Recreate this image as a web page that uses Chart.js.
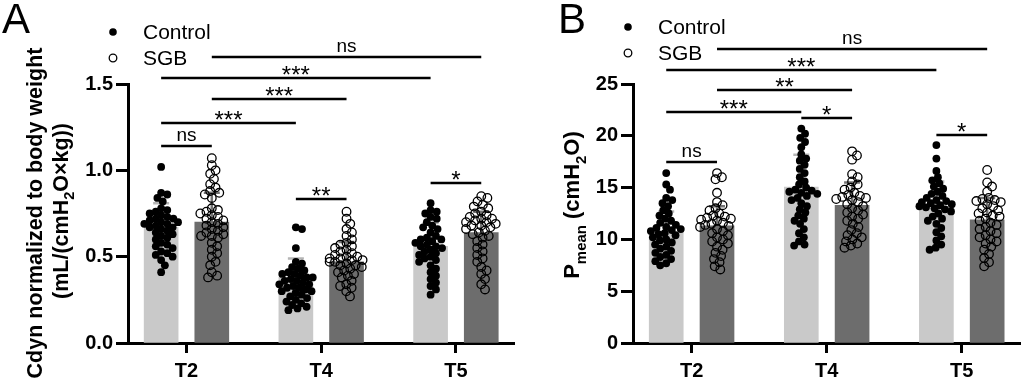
<!DOCTYPE html>
<html>
<head>
<meta charset="utf-8">
<script src="https://cdn.jsdelivr.net/npm/chart.js@4.4.0/dist/chart.umd.min.js"></script>
<style>
  html, body { margin: 0; padding: 0; background: #fff; }
  #wrapA { position: absolute; left: 0; top: 0; width: 520px; height: 382px; }
  #wrapB { position: absolute; left: 520px; top: 0; width: 506px; height: 382px; }
</style>
</head>
<body>
<div id="wrapA"><canvas id="chartA" width="520" height="382"></canvas></div>
<div id="wrapB"><canvas id="chartB" width="506" height="382"></canvas></div>
<script>
// ---- data ----
const timepoints = ['T2', 'T4', 'T5'];
const groups = ['Control', 'SGB'];

// Panel A: Cdyn normalized to body weight
const cdynMeanControl = [0.67, 0.38, 0.56];
const cdynMeanSGB = [0.70, 0.47, 0.64];
const cdynSdControl = [0.14, 0.11, 0.135];
const cdynSdSGB = [0.17, 0.115, 0.12];
const cdynControlT2 = [1.02, 0.87, 0.86, 0.84, 0.82, 0.78, 0.77, 0.76, 0.75, 0.74, 0.73, 0.72, 0.72, 0.71, 0.70, 0.70, 0.69, 0.69, 0.68, 0.67, 0.67, 0.66, 0.65, 0.64, 0.63, 0.62, 0.61, 0.60, 0.58, 0.57, 0.56, 0.55, 0.53, 0.52, 0.51, 0.50, 0.48, 0.45, 0.41];
const cdynSGBT2 = [1.07, 1.03, 1.00, 0.98, 0.95, 0.92, 0.90, 0.88, 0.87, 0.86, 0.84, 0.78, 0.77, 0.76, 0.75, 0.74, 0.73, 0.72, 0.71, 0.70, 0.69, 0.68, 0.67, 0.66, 0.65, 0.64, 0.63, 0.62, 0.62, 0.61, 0.58, 0.56, 0.54, 0.52, 0.50, 0.47, 0.45, 0.41, 0.39, 0.38];
const cdynControlT4 = [0.67, 0.66, 0.55, 0.47, 0.46, 0.44, 0.43, 0.42, 0.41, 0.40, 0.40, 0.39, 0.38, 0.38, 0.37, 0.36, 0.36, 0.35, 0.34, 0.34, 0.33, 0.32, 0.32, 0.31, 0.30, 0.30, 0.29, 0.28, 0.27, 0.26, 0.25, 0.24, 0.23, 0.22, 0.21, 0.20, 0.19];
const cdynSGBT4 = [0.76, 0.72, 0.69, 0.66, 0.64, 0.62, 0.60, 0.58, 0.57, 0.56, 0.55, 0.54, 0.53, 0.52, 0.51, 0.50, 0.50, 0.49, 0.49, 0.48, 0.48, 0.47, 0.47, 0.46, 0.45, 0.45, 0.44, 0.43, 0.42, 0.41, 0.40, 0.39, 0.38, 0.36, 0.34, 0.33, 0.32, 0.30, 0.27];
const cdynControlT5 = [0.81, 0.77, 0.76, 0.75, 0.73, 0.72, 0.70, 0.68, 0.67, 0.66, 0.64, 0.62, 0.61, 0.60, 0.60, 0.59, 0.58, 0.57, 0.56, 0.56, 0.55, 0.54, 0.53, 0.52, 0.51, 0.50, 0.49, 0.48, 0.47, 0.45, 0.43, 0.41, 0.39, 0.37, 0.35, 0.33, 0.31, 0.28];
const cdynSGBT5 = [0.85, 0.84, 0.82, 0.80, 0.79, 0.78, 0.76, 0.75, 0.74, 0.73, 0.72, 0.72, 0.71, 0.70, 0.70, 0.69, 0.68, 0.68, 0.67, 0.66, 0.65, 0.64, 0.63, 0.62, 0.61, 0.59, 0.57, 0.55, 0.53, 0.51, 0.49, 0.47, 0.44, 0.42, 0.40, 0.37, 0.34, 0.31];

// Panel B: Pmean
const pmeanMeanControl = [10.7, 15.06, 13.2];
const pmeanMeanSGB = [11.3, 13.3, 11.9];
const pmeanSdControl = [2.0, 3.1, 2.4];
const pmeanSdSGB = [1.9, 2.2, 2.1];
const pmeanControlT2 = [16.4, 15.3, 14.8, 14.0, 13.8, 13.5, 13.2, 12.8, 12.5, 12.3, 12.0, 11.8, 11.6, 11.4, 11.2, 11.1, 11.0, 10.9, 10.8, 10.6, 10.5, 10.4, 10.2, 10.0, 9.9, 9.7, 9.5, 9.3, 9.1, 8.9, 8.7, 8.5, 8.3, 8.1, 7.9, 7.7, 7.5];
const pmeanSGBT2 = [16.4, 16.0, 15.8, 14.5, 13.6, 13.3, 13.0, 12.8, 12.5, 12.3, 12.2, 12.1, 12.0, 11.9, 11.8, 11.6, 11.5, 11.4, 11.3, 11.2, 11.0, 10.8, 10.6, 10.4, 10.2, 10.0, 9.8, 9.6, 9.3, 9.0, 8.7, 8.4, 8.1, 7.8, 7.4, 7.1];
const pmeanControlT4 = [20.7, 20.2, 19.8, 19.4, 18.9, 18.2, 17.8, 17.6, 17.2, 16.8, 16.4, 16.0, 15.6, 15.3, 15.0, 14.8, 14.7, 14.6, 14.5, 14.4, 14.2, 14.0, 13.8, 13.5, 13.2, 12.9, 12.6, 12.3, 12.0, 11.8, 11.5, 11.0, 10.6, 10.2, 9.8, 9.5, 9.4];
const pmeanSGBT4 = [18.5, 18.1, 17.7, 16.3, 16.0, 15.6, 15.3, 15.0, 14.8, 14.5, 14.3, 14.2, 14.1, 14.0, 13.9, 13.8, 13.6, 13.4, 13.2, 13.0, 12.8, 12.6, 12.4, 12.2, 12.0, 11.8, 11.5, 11.2, 10.9, 10.6, 10.4, 10.2, 10.0, 9.8, 9.6, 9.4, 9.2];
const pmeanControlT5 = [19.1, 17.8, 16.6, 16.0, 15.7, 15.4, 15.1, 14.9, 14.6, 14.4, 14.2, 14.0, 13.8, 13.7, 13.6, 13.5, 13.4, 13.3, 13.2, 13.1, 13.0, 12.9, 12.7, 12.5, 12.2, 12.0, 11.8, 11.5, 11.1, 10.7, 10.3, 9.9, 9.5, 9.2, 9.0];
const pmeanSGBT5 = [16.7, 15.5, 15.1, 14.6, 14.0, 13.9, 13.8, 13.7, 13.6, 13.4, 13.2, 13.0, 12.8, 12.6, 12.5, 12.3, 12.2, 12.0, 11.8, 11.6, 11.4, 11.2, 11.0, 10.8, 10.6, 10.4, 10.2, 10.0, 9.8, 9.6, 9.3, 9.0, 8.6, 8.2, 7.8, 7.4];

// significance brackets: [from timepoint, from group, to timepoint, to group, level, label]
const cdynBrackets = [
  [0, 1, 2, 1, 1.656, 'ns'],
  [0, 0, 2, 0, 1.534, '***'],
  [0, 1, 1, 1, 1.413, '***'],
  [0, 0, 1, 0, 1.274, '***'],
  [0, 0, 0, 1, 1.141, 'ns'],
  [1, 0, 1, 1, 0.834, '**'],
  [2, 0, 2, 1, 0.926, '*']
];
const pmeanBrackets = [
  [0, 1, 2, 1, 28.38, 'ns'],
  [0, 0, 2, 0, 26.35, '***'],
  [0, 1, 1, 1, 24.42, '**'],
  [0, 0, 1, 0, 22.30, '***'],
  [1, 0, 1, 1, 21.72, '*'],
  [0, 0, 0, 1, 17.47, 'ns'],
  [2, 0, 2, 1, 20.08, '*']
];

// ---- layout ----
const FONT = "'Liberation Sans', Arial, sans-serif";
Chart.defaults.font.family = FONT;
Chart.defaults.color = '#000';

const X_MIN = -0.434, X_MAX = 2.434;
const PLOT_W = 389, PLOT_H = 259;
const PX_PER_X = PLOT_W / (X_MAX - X_MIN);
const BAR_OFF = 25.5 / PX_PER_X;
const groupOffset = g => (g === 0 ? -BAR_OFF : BAR_OFF);

// beeswarm offsets (pixels) so dots of similar value sit side by side
function swarm(values, pxPerY, diam, maxHalf) {
  const order = values.map((v, i) => i).sort((a, b) => values[b] - values[a]);
  const placed = [];
  const xs = new Array(values.length);
  order.forEach(i => {
    const y = values[i] * pxPerY;
    const near = placed.filter(p => Math.abs(p.y - y) < diam);
    const cands = [0];
    near.forEach(p => {
      const dx = Math.sqrt(diam * diam - (p.y - y) ** 2);
      cands.push(p.x + dx, p.x - dx);
    });
    cands.sort((a, b) => Math.abs(a) - Math.abs(b));
    let best = cands.find(c => near.every(p => (p.x - c) ** 2 + (p.y - y) ** 2 >= diam * diam - 0.01));
    if (best === undefined) best = 0;
    best = Math.max(-maxHalf, Math.min(maxHalf, best));
    placed.push({ x: best, y });
    xs[i] = best;
  });
  return xs;
}

function points(lists, g, pxPerY) {
  const out = [];
  lists.forEach((vals, t) => {
    const xs = swarm(vals, pxPerY, 6.4, 17);
    vals.forEach((v, i) => out.push({ x: t + groupOffset(g) + xs[i] / PX_PER_X, y: v }));
  });
  return out;
}

function drawRich(ctx, segs, size, bold) {
  const subSize = size * 0.68;
  const w = segs.reduce((acc, s) => {
    ctx.font = (bold ? 'bold ' : '') + (s[1] ? subSize : size) + 'px ' + FONT;
    return acc + ctx.measureText(s[0]).width;
  }, 0);
  let x = -w / 2;
  segs.forEach(s => {
    ctx.font = (bold ? 'bold ' : '') + (s[1] ? subSize : size) + 'px ' + FONT;
    ctx.fillText(s[0], x, s[1] ? size * 0.3 : 0);
    x += ctx.measureText(s[0]).width;
  });
}

function makePanel(id, cfg) {
  const decor = {
    id: 'decor' + id,
    afterDatasetDraw(chart, args) {
      const ds = chart.data.datasets[args.index];
      if (ds.type !== 'bar') return;
      const ctx = chart.ctx, ys = chart.scales.y;
      ctx.save();
      ctx.strokeStyle = ds.errColor;
      ctx.lineWidth = 2.5;
      args.meta.data.forEach((bar, i) => {
        const top = ys.getPixelForValue(ds.data[i].y + ds.sd[i]);
        ctx.beginPath();
        ctx.moveTo(bar.x, bar.y);
        ctx.lineTo(bar.x, top);
        ctx.moveTo(bar.x - 8, top);
        ctx.lineTo(bar.x + 8, top);
        ctx.stroke();
      });
      ctx.restore();
    },
    afterDraw(chart) {
      const ctx = chart.ctx, xs = chart.scales.x, ys = chart.scales.y;
      ctx.save();
      ctx.fillStyle = '#000';
      ctx.strokeStyle = '#000';
      // brackets
      cfg.brackets.forEach(b => {
        const x1 = xs.getPixelForValue(b[0] + groupOffset(b[1]));
        const x2 = xs.getPixelForValue(b[2] + groupOffset(b[3]));
        const y = Math.round(ys.getPixelForValue(b[4]));
        ctx.lineWidth = 2.5;
        ctx.beginPath();
        ctx.moveTo(x1, y);
        ctx.lineTo(x2, y);
        ctx.stroke();
        ctx.textAlign = 'center';
        ctx.textBaseline = 'alphabetic';
        if (b[5] === 'ns') {
          ctx.font = '19px ' + FONT;
          ctx.fillText('ns', (x1 + x2) / 2, y - 5);
        } else {
          ctx.font = '24px ' + FONT;
          ctx.fillText(b[5], (x1 + x2) / 2, y + 5);
        }
      });
      // panel letter
      ctx.textAlign = 'left';
      ctx.font = '42px ' + FONT;
      ctx.fillText(cfg.letter, cfg.letterX, 33);
      // legend
      ctx.font = '21px ' + FONT;
      groups.forEach((g, k) => {
        const cy = cfg.legY[k];
        ctx.beginPath();
        ctx.arc(cfg.legX, cy, 3.8, 0, Math.PI * 2);
        if (k === 0) ctx.fill();
        else { ctx.lineWidth = 1.3; ctx.stroke(); }
        ctx.textBaseline = 'middle';
        ctx.fillText(g, cfg.legX + 30, cy + 1);
      });
      // y axis title
      ctx.textBaseline = 'alphabetic';
      cfg.title.forEach(line => {
        ctx.save();
        ctx.translate(line.x, line.y);
        ctx.rotate(-Math.PI / 2);
        drawRich(ctx, line.segs, line.size, true);
        ctx.restore();
      });
      ctx.restore();
    }
  };

  const mk = (arr, g) => arr.map((m, i) => ({ x: i + groupOffset(g), y: m }));
  return new Chart(document.getElementById(id), {
    type: 'bar',
    data: {
      datasets: [
        { type: 'scatter', label: 'Control', data: points(cfg.ctrl, 0, PLOT_H / cfg.max),
          pointRadius: 3.9, pointBackgroundColor: '#000', pointBorderColor: '#000', pointBorderWidth: 0, order: 1 },
        { type: 'scatter', label: 'SGB', data: points(cfg.sgb, 1, PLOT_H / cfg.max),
          pointRadius: 4.3, pointBackgroundColor: 'rgba(0,0,0,0)', pointBorderColor: '#000', pointBorderWidth: 1.3, order: 1 },
        { type: 'bar', label: 'Control mean', data: mk(cfg.meanC, 0), sd: cfg.sdC, errColor: '#b5b5b5',
          backgroundColor: '#c9c9c9', barThickness: 34, grouped: false, order: 2 },
        { type: 'bar', label: 'SGB mean', data: mk(cfg.meanS, 1), sd: cfg.sdS, errColor: '#747474',
          backgroundColor: '#6d6d6d', barThickness: 34, grouped: false, order: 2 }
      ]
    },
    options: {
      responsive: false,
      animation: false,
      events: [],
      layout: { padding: { top: 84, right: 3, left: 0, bottom: 0 } },
      plugins: { legend: { display: false }, tooltip: { enabled: false } },
      scales: {
        x: {
          type: 'linear', min: X_MIN, max: X_MAX, offset: false,
          afterBuildTicks: s => { s.ticks = [0, 1, 2].map(v => ({ value: v })); },
          afterFit: s => { s.height = 39; },
          ticks: { callback: v => timepoints[v], font: { size: 20, weight: 'bold' }, color: '#000', padding: 6, maxRotation: 0, autoSkip: false },
          grid: { offset: false, drawOnChartArea: false, tickLength: 10, tickWidth: 3, tickColor: '#000' },
          border: { display: true, color: '#000', width: 3 }
        },
        y: {
          min: 0, max: cfg.max,
          afterFit: s => { s.width = cfg.yWidth; },
          ticks: { stepSize: cfg.step, callback: cfg.fmt, font: { size: 20, weight: 'bold' }, color: '#000', padding: 3 },
          grid: { drawOnChartArea: false, tickLength: 12, tickWidth: 3, tickColor: '#000' },
          border: { display: true, color: '#000', width: 3 }
        }
      }
    },
    plugins: [decor]
  });
}

makePanel('chartA', {
  max: 1.5, step: 0.5, fmt: v => v.toFixed(1), yWidth: 128,
  ctrl: [cdynControlT2, cdynControlT4, cdynControlT5],
  sgb: [cdynSGBT2, cdynSGBT4, cdynSGBT5],
  meanC: cdynMeanControl, meanS: cdynMeanSGB, sdC: cdynSdControl, sdS: cdynSdSGB,
  brackets: cdynBrackets,
  letter: 'A', letterX: 2, legX: 113, legY: [32, 58],
  title: [
    { x: 42, y: 213, size: 21.5, segs: [['Cdyn normalized to body weight', false]] },
    { x: 68, y: 211, size: 21.5, segs: [['(mL/(cmH', false], ['2', true], ['O\u00d7kg))', false]] }
  ]
});

makePanel('chartB', {
  max: 25, step: 5, fmt: v => String(v), yWidth: 113,
  ctrl: [pmeanControlT2, pmeanControlT4, pmeanControlT5],
  sgb: [pmeanSGBT2, pmeanSGBT4, pmeanSGBT5],
  meanC: pmeanMeanControl, meanS: pmeanMeanSGB, sdC: pmeanSdControl, sdS: pmeanSdSGB,
  brackets: pmeanBrackets,
  letter: 'B', letterX: 38, legX: 108, legY: [27, 53],
  title: [
    { x: 59, y: 205, size: 22, segs: [['P', false], ['mean', true], [' (cmH', false], ['2', true], ['O)', false]] }
  ]
});
</script>
</body>
</html>
